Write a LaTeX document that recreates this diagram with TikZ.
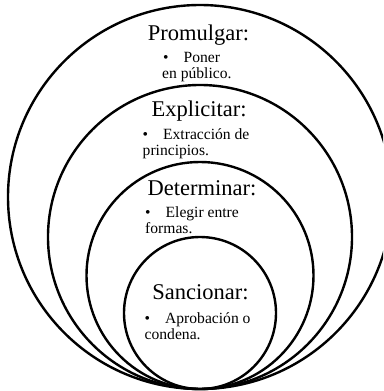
\documentclass[tikz,border=0pt]{standalone}
\usepackage{fontspec}
\setmainfont{Liberation Serif}
\usepackage{tikz}

\newcommand{\blt}{\textbullet\hspace{15pt}}
\newcommand{\tightlines}{\lineskiplimit=-20pt\relax}

\tikzset{
  ring/.style={line width=2.4pt},
  title/.style={anchor=base, inner sep=0pt, font=\fontsize{22.5}{26}\selectfont},
  item/.style={anchor=base west, inner sep=0pt, align=left,
    font=\fontsize{15.6}{16}\selectfont\tightlines},
}

\begin{document}
\begin{tikzpicture}[x=1pt,y=-1pt]
    \useasboundingbox (0,0) rectangle (383,391);
    \clip (0,0) rectangle (383,391);
    % rings, all touching at the bottom
    \draw[ring] (200,197) circle[radius=192pt];
    \draw[ring] (200,237) circle[radius=152pt];
    \draw[ring] (200,275.5) circle[radius=113.5pt];
    \draw[ring] (200,313) circle[radius=76pt];
    % Promulgar (text node anchored on its last line)
    \node[title] (prom) at (198.5,40) {Promulgar:};
    \node[item] (promtxt) at (162,78) {\hspace{1pt}\blt Poner\\en público.};
    % Explicitar
    \node[title] (expl) at (199,116) {Explicitar:};
    \node[item] (expltxt) at (142.5,155) {\blt Extracción de\\principios.};
    % Determinar
    \node[title] (det) at (202,195) {Determinar:};
    \node[item] (dettxt) at (145,233) {\blt Elegir entre\\formas.};
    % Sancionar
    \node[title] (sanc) at (200.5,299) {Sancionar:};
    \node[item] (sanctxt) at (144.5,339) {\blt Aprobación o\\condena.};
\end{tikzpicture}
\end{document}
